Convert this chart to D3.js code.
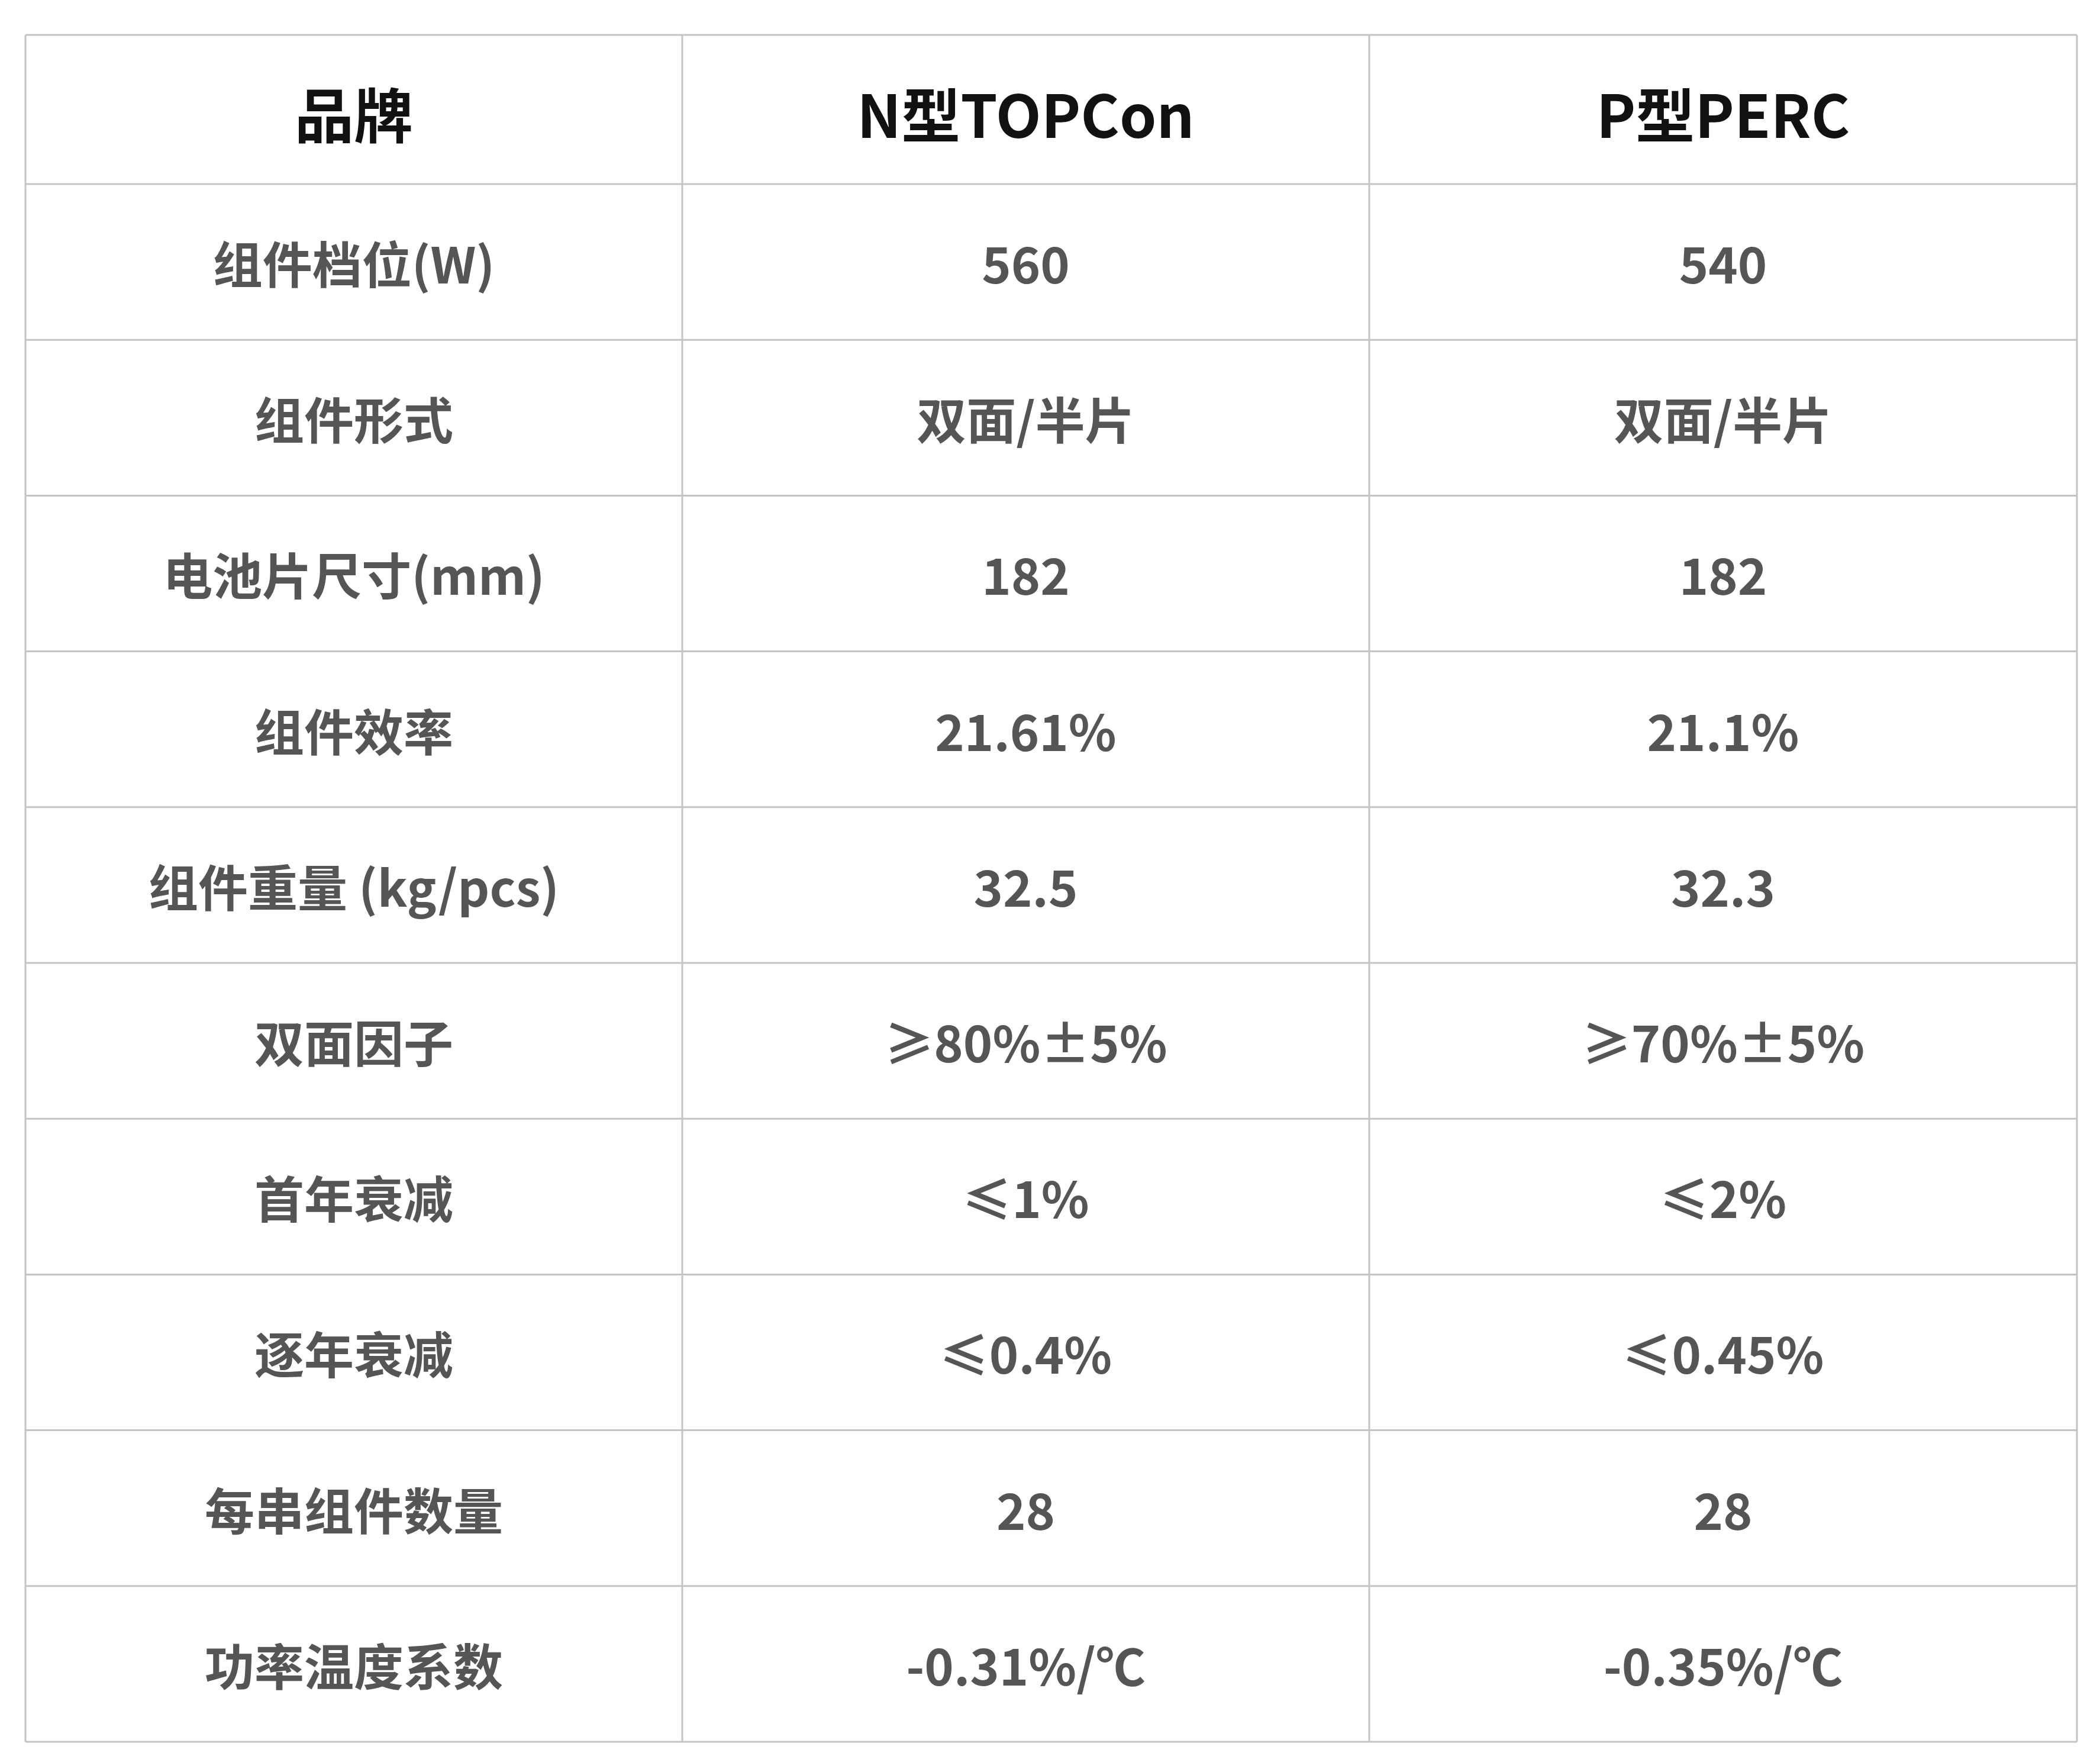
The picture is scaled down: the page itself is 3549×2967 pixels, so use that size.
<!DOCTYPE html>
<html><head><meta charset="utf-8">
<script src="https://cdn.jsdelivr.net/npm/d3@7"></script>
<style>body{margin:0;background:#fff}</style>
</head><body><svg width="3549" height="2967"></svg>
<script>
var headers = ["品牌", "N型TOPCon", "P型PERC"];
var rowLabels = ["组件档位(W)", "组件形式", "电池片尺寸(mm)", "组件效率", "组件重量 (kg/pcs)", "双面因子", "首年衰减", "逐年衰减", "每串组件数量", "功率温度系数"];
var topcon = ["560", "双面/半片", "182", "21.61%", "32.5", "≥80%±5%", "≤1%", "≤0.4%", "28", "-0.31%/℃"];
var perc = ["540", "双面/半片", "182", "21.1%", "32.3", "≥70%±5%", "≤2%", "≤0.45%", "28", "-0.35%/℃"];

var svg = d3.select("svg");
var font = "'Noto Sans CJK SC', 'Noto Sans', sans-serif";
var colEdges = [43, 1153, 2314, 3510];
var colW = function (i) { return colEdges[i + 1] - colEdges[i]; };
var headTop = 59, headBottom = 311, bottom = 2943;
var y = d3.scaleBand().domain(rowLabels).range([headBottom, bottom]);

var rows = rowLabels.map(function (d, i) { return [d, topcon[i], perc[i]]; });
var line = "#c4c4c4";

// header
headers.forEach(function (h, i) {
    svg.append("text").attr("x", colEdges[i] + colW(i) / 2).attr("y", (headTop + headBottom) / 2 + 4)
        .attr("text-anchor", "middle").attr("dominant-baseline", "central")
        .attr("font-family", font).attr("font-weight", 700).attr("font-size", 100)
        .attr("fill", "#111").text(h);
});

var g = svg.selectAll(".row").data(rows).enter().append("g")
    .attr("transform", function (d) { return "translate(0," + y(d[0]) + ")"; });
g.selectAll("text").data(function (d) { return d; }).enter().append("text")
    .attr("x", function (d, i) { return colEdges[i] + colW(i) / 2; })
    .attr("y", y.bandwidth() / 2)
    .attr("text-anchor", "middle").attr("dominant-baseline", "central")
    .attr("font-family", font).attr("font-weight", 700).attr("font-size", 84)
    .attr("fill", "#555").text(function (d) { return d; });

// grid
var hy = [headTop, headBottom].concat(rowLabels.map(function (d) { return y(d) + y.bandwidth(); }));
svg.selectAll(".h").data(hy).enter().append("line")
    .attr("x1", colEdges[0]).attr("x2", colEdges[3])
    .attr("y1", function (d) { return d; }).attr("y2", function (d) { return d; })
    .attr("stroke", line).attr("stroke-width", 3);
svg.selectAll(".v").data(colEdges).enter().append("line")
    .attr("x1", function (d) { return d; }).attr("x2", function (d) { return d; })
    .attr("y1", headTop).attr("y2", bottom)
    .attr("stroke", line).attr("stroke-width", 3);
</script></body></html>
